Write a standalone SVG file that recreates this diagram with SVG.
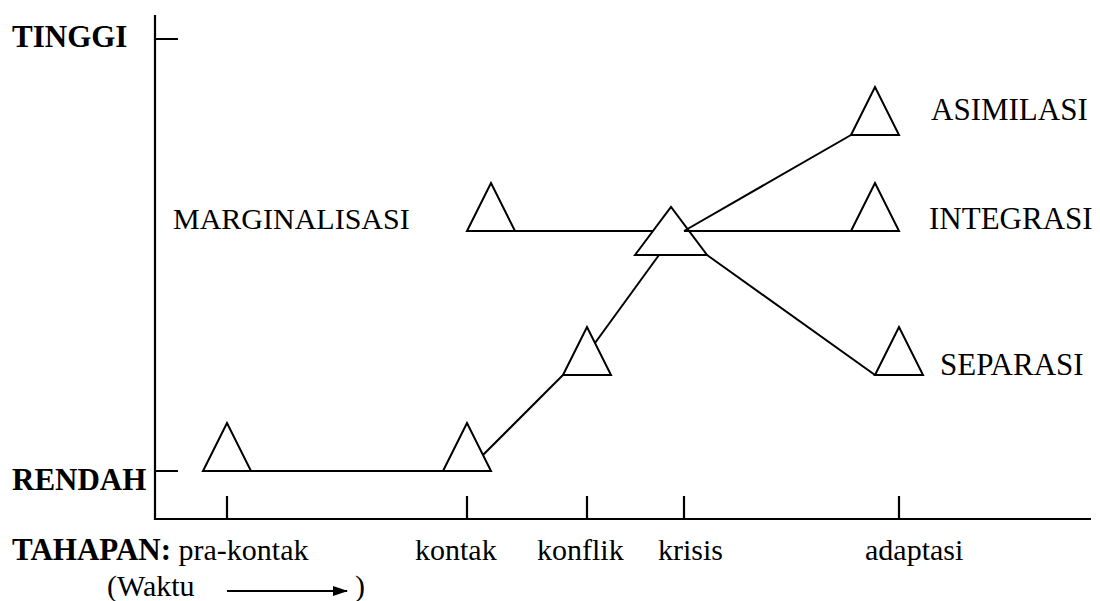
<svg xmlns="http://www.w3.org/2000/svg" width="1100" height="601" viewBox="0 0 1100 601">
  <style>
    .ax { stroke: #000; stroke-width: 2.2; fill: none; }
    .ln { stroke: #000; stroke-width: 2; fill: none; }
    .tri { stroke: #000; stroke-width: 2; fill: none; stroke-linejoin: miter; }
    .lbl { font-family: "Liberation Serif", "Times New Roman", serif; font-size: 30px; fill: #000; }
    .big { font-family: "Liberation Serif", "Times New Roman", serif; font-size: 31px; fill: #000; }
    .bold { font-family: "Liberation Serif", "Times New Roman", serif; font-size: 31px; font-weight: bold; fill: #000; }
  </style>
  <defs>
    <marker id="head" viewBox="0 0 15 10" refX="14" refY="5" markerWidth="7.5" markerHeight="5" markerUnits="strokeWidth" orient="auto" preserveAspectRatio="none">
      <path d="M0,0 L15,5 L0,10 Z" fill="#000"/>
    </marker>
  </defs>
  <rect width="1100" height="601" fill="#fff"/>

  <!-- axes and ticks -->
  <g id="axes">
    <path class="ax" d="M155,15 V519 H1091"/>
    <path class="ax" d="M155,39 H178 M155,471 H178"/>
    <path class="ax" d="M227,496 V519 M467,496 V519 M587,496 V519 M684,496 V519 M899,496 V519"/>
    <text class="bold" x="12" y="47">TINGGI</text>
    <text class="bold" x="12" y="490">RENDAH</text>
  </g>

  <!-- links between stages -->
  <g id="connectors">
    <line class="ln" x1="251" y1="471" x2="443" y2="471"/>
    <line class="ln" x1="483" y1="455" x2="563" y2="375"/>
    <line class="ln" x1="595" y1="343" x2="659" y2="255"/>
    <line class="ln" x1="467" y1="231" x2="653" y2="231"/>
    <line class="ln" x1="684" y1="231" x2="851" y2="135"/>
    <line class="ln" x1="684" y1="231" x2="875" y2="231"/>
    <line class="ln" x1="707" y1="255" x2="875" y2="375"/>
  </g>

  <!-- stage markers -->
  <g id="prakontak"><polygon class="tri" points="203,471 227,423 251,471"/></g>
  <g id="kontak"><polygon class="tri" points="443,471 467,423 491,471"/></g>
  <g id="konflik"><polygon class="tri" points="563,375 587,327 611,375"/></g>
  <g id="krisis"><polygon class="tri" points="635,255 671,207 707,255"/></g>
  <g id="marginalisasi">
    <polygon class="tri" points="467,231 491,183 515,231"/>
    <text class="lbl" x="173" y="229">MARGINALISASI</text>
  </g>
  <g id="asimilasi">
    <polygon class="tri" points="851,135 875,87 899,135"/>
    <text class="big" x="931" y="120">ASIMILASI</text>
  </g>
  <g id="integrasi">
    <polygon class="tri" points="851,231 875,183 899,231"/>
    <text class="big" x="929" y="229">INTEGRASI</text>
  </g>
  <g id="separasi">
    <polygon class="tri" points="875,375 899,327 923,375"/>
    <text class="big" x="940" y="375">SEPARASI</text>
  </g>

  <!-- stage axis labels -->
  <g id="tahapan">
    <text class="lbl" x="12" y="560"><tspan style="font-weight:bold;font-size:31px">TAHAPAN:</tspan> pra-kontak</text>
    <text class="lbl" x="415" y="560">kontak</text>
    <text class="lbl" x="537" y="560">konflik</text>
    <text class="lbl" x="658" y="560">krisis</text>
    <text class="lbl" x="865" y="560">adaptasi</text>
    <text class="lbl" x="107" y="596">(Waktu</text>
    <line class="ln" x1="227" y1="591" x2="347" y2="591" marker-end="url(#head)"/>
    <text class="lbl" x="355" y="596">)</text>
  </g>
</svg>
